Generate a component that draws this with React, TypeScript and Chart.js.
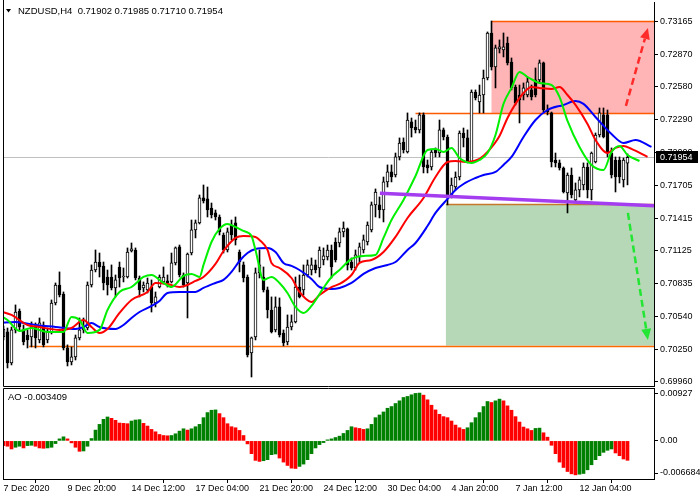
import React, { useEffect, useRef } from "react";
import { Chart, registerables } from "chart.js";

Chart.register(...registerables);

// ---------- data (NZDUSD H4) ----------
const OPEN = [
  0.70359, 0.70404, 0.70128, 0.70422, 0.7059, 0.70422, 0.70377, 0.70359, 0.70448, 0.70333,
  0.70466, 0.70333, 0.70404, 0.70661, 0.70821, 0.70741, 0.70262, 0.70137, 0.70182, 0.70351,
  0.70422, 0.70439, 0.70821, 0.70954, 0.71025, 0.7099, 0.70892, 0.70892, 0.70795, 0.70981,
  0.70892, 0.70892, 0.71123, 0.71132, 0.70883, 0.70795, 0.70777, 0.70803, 0.70661, 0.70803,
  0.70848, 0.70857, 0.70848, 0.71017, 0.71159, 0.7091, 0.70839, 0.71105, 0.7131, 0.71372,
  0.71594, 0.71585, 0.71505, 0.71461, 0.71425, 0.71265, 0.71132, 0.71354, 0.71372, 0.71114,
  0.70999, 0.70892, 0.70217, 0.70359, 0.70928, 0.70892, 0.70777, 0.70599, 0.70422, 0.70626,
  0.70395, 0.70316, 0.70448, 0.70493, 0.70803, 0.70777, 0.7091, 0.70954, 0.70999, 0.70972,
  0.71043, 0.7107, 0.71132, 0.71203, 0.71194, 0.71292, 0.71319, 0.71025, 0.70972, 0.7107,
  0.71132, 0.71203, 0.7131, 0.71532, 0.71532, 0.71487, 0.71736, 0.71825, 0.71798, 0.71958,
  0.72091, 0.72002, 0.72269, 0.72224, 0.72198, 0.72331, 0.71887, 0.71869, 0.7202, 0.71993,
  0.72198, 0.72135, 0.7162, 0.71691, 0.7178, 0.72171, 0.72127, 0.71913, 0.72535, 0.72446,
  0.72508, 0.72659, 0.73059, 0.72757, 0.72917, 0.72908, 0.7297, 0.72801, 0.72579, 0.72508,
  0.72508, 0.72508, 0.72553, 0.72642, 0.72642, 0.72793, 0.72375, 0.72349, 0.71931, 0.71905,
  0.7186, 0.71638, 0.71798, 0.71576, 0.71665, 0.71709, 0.71869, 0.71665, 0.71913, 0.72153,
  0.72331, 0.72331, 0.71993, 0.71931, 0.71931, 0.71754, 0.71902,
];
const HIGH = [
  0.70457, 0.70439, 0.70448, 0.70644, 0.70608, 0.70466, 0.70422, 0.70493, 0.70484, 0.70528,
  0.70493, 0.70439, 0.70688, 0.70839, 0.70937, 0.70759, 0.70289, 0.70271, 0.70377, 0.70528,
  0.70528, 0.70848, 0.70999, 0.71132, 0.71105, 0.71025, 0.70954, 0.70999, 0.7091, 0.71025,
  0.70972, 0.7115, 0.71194, 0.7115, 0.70901, 0.70848, 0.70883, 0.70866, 0.70759, 0.7091,
  0.70981, 0.7091, 0.71105, 0.71159, 0.71176, 0.70928, 0.71105, 0.71398, 0.71398, 0.7162,
  0.71709, 0.71691, 0.71549, 0.71487, 0.71443, 0.71283, 0.71327, 0.71398, 0.71425, 0.71132,
  0.71025, 0.7091, 0.70359, 0.70972, 0.71132, 0.70981, 0.70803, 0.70715, 0.70715, 0.70706,
  0.70422, 0.70555, 0.70555, 0.70892, 0.7091, 0.70999, 0.71043, 0.71061, 0.71043, 0.71159,
  0.7115, 0.71176, 0.71176, 0.71239, 0.71327, 0.71381, 0.71327, 0.71061, 0.71132, 0.71194,
  0.71265, 0.71381, 0.71558, 0.71674, 0.71603, 0.7178, 0.71887, 0.71887, 0.71993, 0.72127,
  0.72127, 0.72349, 0.72304, 0.72286, 0.72349, 0.72349, 0.71931, 0.7202, 0.72038, 0.72286,
  0.72215, 0.72153, 0.71771, 0.71825, 0.72189, 0.72215, 0.72198, 0.72553, 0.72553, 0.72597,
  0.7273, 0.73068, 0.73165, 0.72952, 0.72997, 0.73059, 0.73023, 0.72837, 0.72597, 0.72597,
  0.72615, 0.72668, 0.72597, 0.72748, 0.72819, 0.72801, 0.7242, 0.72357, 0.71993, 0.71931,
  0.71869, 0.71816, 0.7186, 0.71727, 0.7178, 0.71905, 0.71905, 0.72002, 0.72171, 0.72393,
  0.72393, 0.72375, 0.72038, 0.71958, 0.71958, 0.71949, 0.71985,
];
const LOW = [
  0.70333, 0.70084, 0.70111, 0.70395, 0.70422, 0.70289, 0.70262, 0.70271, 0.70262, 0.70307,
  0.70271, 0.70307, 0.70386, 0.70644, 0.70715, 0.70244, 0.70102, 0.70111, 0.70155, 0.70333,
  0.70395, 0.70422, 0.70803, 0.70937, 0.70892, 0.70777, 0.70732, 0.70777, 0.70715, 0.70803,
  0.70848, 0.70883, 0.71114, 0.70866, 0.70715, 0.70759, 0.7075, 0.70581, 0.70626, 0.70795,
  0.7083, 0.70803, 0.70839, 0.70999, 0.70892, 0.70803, 0.70528, 0.71088, 0.71239, 0.71363,
  0.71549, 0.71425, 0.71416, 0.71398, 0.71265, 0.71105, 0.71114, 0.71221, 0.71176, 0.70937,
  0.70848, 0.70182, 0.70004, 0.70333, 0.70883, 0.70759, 0.70528, 0.70395, 0.70404, 0.70359,
  0.7028, 0.70289, 0.70422, 0.70484, 0.70706, 0.70732, 0.70892, 0.7091, 0.70928, 0.70892,
  0.70999, 0.71043, 0.70883, 0.71025, 0.71159, 0.71248, 0.70954, 0.70954, 0.70954, 0.71025,
  0.71105, 0.71176, 0.71292, 0.71425, 0.71416, 0.71381, 0.71691, 0.71736, 0.7178, 0.71931,
  0.71993, 0.71993, 0.72135, 0.72171, 0.72171, 0.71816, 0.71816, 0.71842, 0.71958, 0.71958,
  0.72109, 0.71532, 0.71594, 0.71665, 0.71754, 0.72047, 0.71905, 0.71905, 0.72464, 0.72349,
  0.72349, 0.72642, 0.7273, 0.72571, 0.72881, 0.72846, 0.72775, 0.72553, 0.7242, 0.7226,
  0.72464, 0.72491, 0.72464, 0.72491, 0.72624, 0.72357, 0.72331, 0.71869, 0.71869, 0.71842,
  0.71638, 0.71461, 0.71594, 0.71558, 0.71603, 0.71665, 0.71594, 0.71576, 0.71905, 0.72135,
  0.72127, 0.71958, 0.71771, 0.71647, 0.71727, 0.71691, 0.7171,
];
const CLOSE = [
  0.7043, 0.70128, 0.70422, 0.70581, 0.70448, 0.70316, 0.70333, 0.70448, 0.70351, 0.70484,
  0.70289, 0.70404, 0.70661, 0.70821, 0.70732, 0.70262, 0.70137, 0.70182, 0.70351, 0.70422,
  0.70439, 0.70821, 0.70954, 0.71025, 0.70981, 0.70839, 0.70821, 0.70795, 0.70866, 0.70883,
  0.70901, 0.71114, 0.71141, 0.70883, 0.70777, 0.70821, 0.70839, 0.70661, 0.70715, 0.70892,
  0.70892, 0.70839, 0.71017, 0.7115, 0.7091, 0.70821, 0.71096, 0.7131, 0.71372, 0.71594,
  0.71567, 0.71487, 0.71443, 0.71425, 0.71292, 0.71132, 0.71292, 0.71265, 0.71221, 0.71025,
  0.70883, 0.702, 0.70351, 0.70928, 0.70999, 0.70777, 0.70599, 0.70404, 0.70626, 0.70377,
  0.70307, 0.70448, 0.70493, 0.70803, 0.70715, 0.7091, 0.70999, 0.70999, 0.70954, 0.71132,
  0.71079, 0.71132, 0.70981, 0.71043, 0.71292, 0.71327, 0.70999, 0.70972, 0.71088, 0.71159,
  0.71221, 0.71354, 0.71532, 0.71647, 0.71487, 0.71736, 0.71825, 0.7178, 0.71958, 0.72082,
  0.7202, 0.72286, 0.72215, 0.72198, 0.72331, 0.71869, 0.7186, 0.72002, 0.71993, 0.72198,
  0.72135, 0.7162, 0.71709, 0.7178, 0.72171, 0.72127, 0.71913, 0.72535, 0.72482, 0.72508,
  0.72659, 0.73059, 0.72757, 0.72926, 0.72935, 0.72935, 0.72793, 0.72571, 0.72437, 0.72464,
  0.72571, 0.72624, 0.72491, 0.72508, 0.72793, 0.72375, 0.72357, 0.71913, 0.71905, 0.7186,
  0.71647, 0.71798, 0.7162, 0.71665, 0.71754, 0.71869, 0.71665, 0.71993, 0.72153, 0.72349,
  0.72135, 0.71993, 0.71798, 0.7178, 0.7178, 0.71931, 0.71954,
];

// Awesome Oscillator values
const AO = [
  -0.00083, -0.00094, -0.00142, -0.00112, -0.00094, -0.00124, -0.00083, -0.00077, -0.00094, -0.00124,
  -0.0013, -0.00124, -0.00112, -0.00047, 0.00035, 0.00071, 0.00035, -0.00035, -0.00112, -0.00183,
  -0.00177, -0.00094, 0.00041, 0.00189, 0.00289, 0.00378, 0.00419, 0.00395, 0.0036, 0.00313,
  0.00307, 0.00301, 0.00348, 0.00366, 0.00372, 0.00307, 0.0026, 0.00201, 0.00159, 0.00112,
  0.00094, 0.00089, 0.00094, 0.00124, 0.00171, 0.00212, 0.00189, 0.00212, 0.00248, 0.00289,
  0.00407, 0.00496, 0.00537, 0.00543, 0.00478, 0.00407, 0.00301, 0.00248, 0.0023, 0.00183,
  0.00094, -0.00053, -0.00224, -0.00342, -0.0036, -0.00348, -0.0033, -0.00242, -0.0023, -0.00301,
  -0.00372, -0.00431, -0.00478, -0.00484, -0.00448, -0.00407, -0.0033, -0.00224, -0.00124, -0.00065,
  -0.0003, 0.00018, 0.00035, 0.00059, 0.00083, 0.0013, 0.00183, 0.00248, 0.0023, 0.00218,
  0.00201, 0.00212, 0.00289, 0.00407, 0.00454, 0.00507, 0.00572, 0.00602, 0.00655, 0.00702,
  0.00761, 0.00779, 0.00808, 0.00832, 0.00838, 0.00802, 0.0072, 0.00625, 0.00543, 0.00466,
  0.00425, 0.00407, 0.00348, 0.00277, 0.0023, 0.00201, 0.0023, 0.00319, 0.00407, 0.00496,
  0.00602, 0.0069, 0.00673, 0.00702, 0.00732, 0.00702, 0.00614, 0.00537, 0.00425, 0.0033,
  0.00242, 0.00212, 0.00183, 0.00218, 0.00224, 0.00142, 0.00065, -0.00077, -0.00224, -0.00372,
  -0.00466, -0.00537, -0.00578, -0.00596, -0.00584, -0.00572, -0.00507, -0.00419, -0.0033, -0.0026,
  -0.00201, -0.00165, -0.00142, -0.00212, -0.0026, -0.00318, -0.003409,
];

// Alligator lines (bar index, price)
const JAW_IDX = [-1, 3, 8, 13, 18, 20, 22, 24, 28, 30, 32, 34, 37, 39, 41, 44, 48, 50, 53, 55, 57, 59, 61, 63, 66, 68, 70, 72, 74, 77, 79, 82, 84, 87, 90, 93, 96, 98, 101, 103, 106, 108, 111, 113, 115, 118, 120, 123, 125, 127, 130, 133, 136, 140, 143, 145, 148, 152, 155, 158, 162];
const JAW_VAL = [0.70484, 0.70493, 0.70466, 0.70448, 0.7043, 0.70448, 0.70484, 0.70448, 0.7043, 0.70466, 0.70528, 0.70581, 0.70635, 0.70679, 0.7075, 0.70759, 0.70759, 0.70795, 0.70839, 0.70866, 0.70937, 0.71034, 0.71105, 0.71141, 0.7115, 0.71114, 0.71017, 0.7099, 0.70954, 0.70875, 0.70803, 0.70786, 0.70795, 0.70839, 0.70919, 0.70972, 0.70999, 0.71025, 0.71132, 0.71194, 0.71345, 0.71461, 0.71585, 0.71665, 0.71718, 0.71771, 0.71798, 0.71825, 0.71887, 0.71958, 0.72135, 0.72286, 0.72375, 0.7242, 0.72455, 0.72429, 0.72313, 0.72162, 0.72082, 0.72109, 0.72047];
const TEETH_IDX = [-1, 2, 6, 9, 14, 17, 20, 22, 24, 26, 29, 32, 36, 38, 41, 44, 46, 48, 50, 53, 55, 58, 60, 63, 64, 66, 67, 69, 72, 74, 77, 79, 82, 84, 87, 89, 92, 95, 98, 101, 105, 108, 111, 113, 116, 119, 121, 124, 126, 128, 130, 132, 134, 137, 139, 141, 143, 146, 148, 151, 153, 155, 157, 161];
const TEETH_VAL = [0.7059, 0.70555, 0.70466, 0.70448, 0.70422, 0.70439, 0.7051, 0.70448, 0.70395, 0.7043, 0.70573, 0.70688, 0.70759, 0.70839, 0.7083, 0.70803, 0.70821, 0.70857, 0.70892, 0.71008, 0.71123, 0.71239, 0.71256, 0.71248, 0.71221, 0.71132, 0.71017, 0.70972, 0.70883, 0.70759, 0.7067, 0.70732, 0.70803, 0.7083, 0.7091, 0.71017, 0.71043, 0.71114, 0.71248, 0.71416, 0.71594, 0.7178, 0.71913, 0.71922, 0.71913, 0.7194, 0.72002, 0.72144, 0.72304, 0.72429, 0.72526, 0.72579, 0.72571, 0.72562, 0.72579, 0.72508, 0.7242, 0.72251, 0.72109, 0.71993, 0.72038, 0.72056, 0.72029, 0.71958];
const LIPS_IDX = [-1, 1, 4, 7, 11, 15, 17, 19, 21, 24, 26, 29, 32, 35, 37, 40, 42, 45, 47, 49, 50, 52, 54, 56, 58, 60, 62, 63, 65, 67, 69, 71, 73, 75, 77, 80, 82, 84, 87, 90, 93, 95, 97, 100, 103, 106, 108, 110, 112, 114, 117, 119, 121, 123, 125, 127, 129, 131, 134, 137, 139, 141, 144, 147, 150, 152, 154, 156, 159];
const LIPS_VAL = [0.70555, 0.7051, 0.70413, 0.70439, 0.70404, 0.70404, 0.70537, 0.7051, 0.70395, 0.70422, 0.70599, 0.70759, 0.70803, 0.70892, 0.7091, 0.70839, 0.70803, 0.70901, 0.70919, 0.70892, 0.70999, 0.71203, 0.71319, 0.71363, 0.71336, 0.71301, 0.71256, 0.71132, 0.70866, 0.70892, 0.70839, 0.7075, 0.70626, 0.70573, 0.70635, 0.70795, 0.70892, 0.70954, 0.71052, 0.71079, 0.71088, 0.71239, 0.71398, 0.71576, 0.71789, 0.7202, 0.72029, 0.72002, 0.72038, 0.71949, 0.71905, 0.71931, 0.71993, 0.72153, 0.72429, 0.72571, 0.72713, 0.72668, 0.72615, 0.72597, 0.72491, 0.72278, 0.72047, 0.71887, 0.71842, 0.72002, 0.72056, 0.71976, 0.71922];

// axis ticks
const PRICE_TICKS = [0.73165, 0.7287, 0.7258, 0.7229, 0.72, 0.71705, 0.71415, 0.71125, 0.70835, 0.7054, 0.7025, 0.6996];
const TIME_TICK_INDEX = [0, 16, 32, 48, 64, 80, 96, 112, 128, 144];
const TIME_LABELS = ["7 Dec 2020", "9 Dec 20:00", "14 Dec 12:00", "17 Dec 04:00", "21 Dec 20:00", "24 Dec 12:00", "30 Dec 04:00", "4 Jan 20:00", "7 Jan 12:00", "12 Jan 04:00"];
const AO_SCALE_VALUES = [-0.006684, 0, 0.00927];
const AO_SCALE_LABELS = ["-0.006684", "0.00", "0.00927"];

// annotations (bar index / price)
const SYMBOL_TITLE = "NZDUSD,H4  0.71902 0.71985 0.71710 0.71954";
const AO_TITLE = "AO -0.003409";
const CURRENT_PRICE = 0.71954;
const UPPER_BOX = { from: 122, top: 0.73165, bottom: 0.72346 };
const RESIST_LEVEL = { from: 103, price: 0.72346 };
const LOWER_BOX = { from: 110.6, top: 0.71538, bottom: 0.70282 };
const TARGET_DOWN = { from: 6.4, price: 0.70282 };
const TREND_LINE = [{ x: 94.1, y: 0.71636 }, { x: 162.625, y: 0.71525 }];
const ARROW_UP = [{ x: 155.6, y: 0.72411 }, { x: 161.1, y: 0.73103 }];
const ARROW_DOWN = [{ x: 156.1, y: 0.71461 }, { x: 161.1, y: 0.70333 }];

// ---------- layout constants ----------
const X_MIN = -0.125;
const X_MAX = 162.625;
const PRICE_MIN = 0.69924;
const PRICE_MAX = 0.73334;
const AO_MIN = -0.006684;
const AO_MAX = 0.00927;
const AO_PANEL_H = 91;
const FONT = '"Liberation Sans", Arial, "DejaVu Sans", sans-serif';

const pairs = (idx: number[], val: number[]) => idx.map((x, k) => ({ x, y: val[k] }));

function hline(ctx: CanvasRenderingContext2D, x1: number, x2: number, y: number, color: string, w: number) {
  ctx.save();
  ctx.strokeStyle = color;
  ctx.lineWidth = w;
  ctx.beginPath();
  const yy = Math.round(y) + 0.5;
  ctx.moveTo(x1, yy);
  ctx.lineTo(x2, yy);
  ctx.stroke();
  ctx.restore();
}

function arrow(ctx: CanvasRenderingContext2D, x1: number, y1: number, x2: number, y2: number, color: string) {
  const ang = Math.atan2(y2 - y1, x2 - x1);
  const head = 11;
  const half = 5;
  const bx = x2 - head * Math.cos(ang);
  const by = y2 - head * Math.sin(ang);
  ctx.save();
  ctx.strokeStyle = color;
  ctx.lineWidth = 2.5;
  ctx.setLineDash([7, 4]);
  ctx.beginPath();
  ctx.moveTo(x1, y1);
  ctx.lineTo(bx, by);
  ctx.stroke();
  ctx.setLineDash([]);
  ctx.fillStyle = color;
  ctx.beginPath();
  ctx.moveTo(x2, y2);
  ctx.lineTo(bx + half * Math.sin(ang), by - half * Math.cos(ang));
  ctx.lineTo(bx - half * Math.sin(ang), by + half * Math.cos(ang));
  ctx.closePath();
  ctx.fill();
  ctx.restore();
}

const noPad = (s: any) => {
  s.paddingTop = 0;
  s.paddingBottom = 0;
  s.paddingLeft = 0;
  s.paddingRight = 0;
};

const mainDecor = {
  id: "mainDecor",
  beforeDatasetsDraw(chart: any) {
    const { ctx, chartArea: a } = chart;
    const x = chart.scales.x;
    const y = chart.scales.y;
    ctx.save();
    ctx.beginPath();
    ctx.rect(a.left, a.top, a.right - a.left, a.bottom - a.top);
    ctx.clip();
    const ux = x.getPixelForValue(UPPER_BOX.from);
    const ut = y.getPixelForValue(UPPER_BOX.top);
    const ub = y.getPixelForValue(UPPER_BOX.bottom);
    ctx.fillStyle = "#ffb5b5";
    ctx.fillRect(ux, ut, a.right - ux, ub - ut);
    const lx = x.getPixelForValue(LOWER_BOX.from);
    const lt = y.getPixelForValue(LOWER_BOX.top);
    const lb = y.getPixelForValue(LOWER_BOX.bottom);
    ctx.fillStyle = "#b7d8b7";
    ctx.fillRect(lx, lt, a.right - lx, lb - lt);
    hline(ctx, a.left, a.right, y.getPixelForValue(CURRENT_PRICE), "#c0c0c0", 1);
    hline(ctx, ux, a.right, ut, "#ff5a00", 1.5);
    hline(ctx, x.getPixelForValue(RESIST_LEVEL.from), a.right, y.getPixelForValue(RESIST_LEVEL.price), "#ff5a00", 1.5);
    hline(ctx, lx, a.right, lt, "#c8782a", 1.5);
    hline(ctx, x.getPixelForValue(TARGET_DOWN.from), a.right, y.getPixelForValue(TARGET_DOWN.price), "#ff6a00", 1.5);
    ctx.restore();
  },
  afterDatasetsDraw(chart: any) {
    const { ctx, chartArea: a } = chart;
    const x = chart.scales.x;
    const y = chart.scales.y;
    ctx.save();
    ctx.beginPath();
    ctx.rect(a.left, a.top, a.right - a.left + 1, a.bottom - a.top);
    ctx.clip();
    ctx.strokeStyle = "#a43cf0";
    ctx.lineWidth = 3.5;
    ctx.beginPath();
    ctx.moveTo(x.getPixelForValue(TREND_LINE[0].x), y.getPixelForValue(TREND_LINE[0].y));
    ctx.lineTo(x.getPixelForValue(TREND_LINE[1].x), y.getPixelForValue(TREND_LINE[1].y));
    ctx.stroke();
    arrow(ctx, x.getPixelForValue(ARROW_UP[0].x), y.getPixelForValue(ARROW_UP[0].y), x.getPixelForValue(ARROW_UP[1].x), y.getPixelForValue(ARROW_UP[1].y), "#ff2a2a");
    arrow(ctx, x.getPixelForValue(ARROW_DOWN[0].x), y.getPixelForValue(ARROW_DOWN[0].y), x.getPixelForValue(ARROW_DOWN[1].x), y.getPixelForValue(ARROW_DOWN[1].y), "#22e633");
    ctx.restore();
  },
  afterDraw(chart: any) {
    const { ctx, chartArea: a } = chart;
    const y = chart.scales.y;
    ctx.save();
    ctx.strokeStyle = "#000";
    ctx.lineWidth = 1;
    ctx.beginPath();
    ctx.moveTo(a.left + 0.5, 0);
    ctx.lineTo(a.left + 0.5, a.bottom + 0.5);
    ctx.lineTo(a.right, a.bottom + 0.5);
    ctx.stroke();
    ctx.fillStyle = "#000";
    ctx.beginPath();
    ctx.moveTo(6, 9);
    ctx.lineTo(11, 9);
    ctx.lineTo(8.5, 12.5);
    ctx.closePath();
    ctx.fill();
    ctx.font = `9.5px ${FONT}`;
    ctx.textBaseline = "middle";
    ctx.textAlign = "left";
    ctx.fillText(SYMBOL_TITLE, 18, 11);
    const py = Math.round(y.getPixelForValue(CURRENT_PRICE));
    ctx.fillStyle = "#000";
    ctx.fillRect(a.right + 2, py - 6, 700 - a.right - 4, 12);
    ctx.fillStyle = "#fff";
    ctx.font = `9px ${FONT}`;
    ctx.fillText(CURRENT_PRICE.toFixed(5), a.right + 6, py + 0.5);
    ctx.restore();
  },
};

const aoDecor = {
  id: "aoDecor",
  afterDraw(chart: any) {
    const { ctx, chartArea: a } = chart;
    ctx.save();
    ctx.strokeStyle = "#000";
    ctx.lineWidth = 1;
    ctx.beginPath();
    ctx.moveTo(a.left + 0.5, a.bottom);
    ctx.lineTo(a.left + 0.5, a.top + 0.5);
    ctx.lineTo(a.right, a.top + 0.5);
    ctx.stroke();
    ctx.fillStyle = "#000";
    ctx.font = `9.5px ${FONT}`;
    ctx.textBaseline = "middle";
    ctx.textAlign = "left";
    ctx.fillText(AO_TITLE, 8, 10);
    ctx.restore();
  },
};

export default function App() {
  const mainRef = useRef<HTMLCanvasElement>(null);
  const aoRef = useRef<HTMLCanvasElement>(null);

  useEffect(() => {
    const tickFont = { size: 9, family: FONT };
    const main = new Chart(mainRef.current as HTMLCanvasElement, {
      type: "bar",
      data: {
        datasets: [
          {
            type: "line",
            label: "Lips",
            data: pairs(LIPS_IDX, LIPS_VAL),
            borderColor: "#00f000",
            borderWidth: 2,
            pointRadius: 0,
            cubicInterpolationMode: "monotone",
            order: 1,
          } as any,
          {
            type: "line",
            label: "Teeth",
            data: pairs(TEETH_IDX, TEETH_VAL),
            borderColor: "#ff0000",
            borderWidth: 2,
            pointRadius: 0,
            cubicInterpolationMode: "monotone",
            order: 2,
          } as any,
          {
            type: "line",
            label: "Jaw",
            data: pairs(JAW_IDX, JAW_VAL),
            borderColor: "#0000ff",
            borderWidth: 2,
            pointRadius: 0,
            cubicInterpolationMode: "monotone",
            order: 3,
          } as any,
          {
            type: "bar",
            label: "Body",
            data: OPEN.map((o, i) => ({ x: i, y: [o, CLOSE[i]] })),
            backgroundColor: OPEN.map((o, i) => (CLOSE[i] >= o ? "#ffffff" : "#000000")),
            borderColor: "#000000",
            borderWidth: 1,
            borderSkipped: false,
            barThickness: 3,
            minBarLength: 1,
            grouped: false,
            order: 4,
          } as any,
          {
            type: "bar",
            label: "Wick",
            data: LOW.map((l, i) => ({ x: i, y: [l, HIGH[i]] })),
            backgroundColor: "#000000",
            borderWidth: 0,
            barThickness: 1,
            grouped: false,
            order: 5,
          } as any,
        ],
      },
      options: {
        responsive: false,
        animation: false,
        events: [],
        layout: { padding: { left: 3, top: 2, right: 0, bottom: 2 } },
        plugins: { legend: { display: false }, tooltip: { enabled: false } },
        scales: {
          x: { type: "linear", min: X_MIN, max: X_MAX, display: false, offset: false },
          y: {
            type: "linear",
            position: "right",
            min: PRICE_MIN,
            max: PRICE_MAX,
            afterFit: (s: any) => {
              s.width = 46;
              noPad(s);
            },
            afterBuildTicks: (s: any) => {
              s.ticks = PRICE_TICKS.map((v) => ({ value: v }));
            },
            ticks: {
              callback: (v: any) => Number(v).toFixed(5),
              font: tickFont,
              color: "#000",
              padding: 2,
              autoSkip: false,
            },
            grid: { drawOnChartArea: false, drawTicks: true, tickLength: 4, color: "#000" },
            border: { display: true, color: "#000" },
          },
        },
      } as any,
      plugins: [mainDecor],
    });

    const edge = ((AO_MAX - AO_MIN) * 6) / AO_PANEL_H;
    const ao = new Chart(aoRef.current as HTMLCanvasElement, {
      type: "bar",
      data: {
        datasets: [
          {
            label: "AO",
            data: AO.map((v, i) => ({ x: i, y: v })),
            backgroundColor: AO.map((v, i) => (i > 0 && v > AO[i - 1] ? "#008000" : "#ff0000")),
            borderWidth: 0,
            barThickness: 3,
            grouped: false,
          } as any,
        ],
      },
      options: {
        responsive: false,
        animation: false,
        events: [],
        layout: { padding: { left: 3, top: 1, right: 0, bottom: 0 } },
        plugins: { legend: { display: false }, tooltip: { enabled: false } },
        scales: {
          x: {
            type: "linear",
            min: X_MIN,
            max: X_MAX,
            offset: false,
            position: "bottom",
            afterFit: (s: any) => {
              s.height = 21;
              noPad(s);
            },
            afterBuildTicks: (s: any) => {
              s.ticks = TIME_TICK_INDEX.map((v) => ({ value: v }));
            },
            ticks: {
              callback: (_v: any, i: number) => TIME_LABELS[i],
              align: "start",
              padding: 0,
              font: tickFont,
              color: "#000",
              maxRotation: 0,
              minRotation: 0,
              autoSkip: false,
            },
            grid: { drawOnChartArea: false, drawTicks: true, tickLength: 4, color: "#000" },
            border: { display: true, color: "#000" },
          },
          y: {
            type: "linear",
            position: "right",
            min: AO_MIN,
            max: AO_MAX,
            afterFit: (s: any) => {
              s.width = 46;
              noPad(s);
            },
            afterBuildTicks: (s: any) => {
              s.ticks = AO_SCALE_VALUES.map((v) => ({
                value: v <= AO_MIN ? v + edge : v >= AO_MAX ? v - edge : v,
              }));
            },
            ticks: {
              callback: (_v: any, i: number) => AO_SCALE_LABELS[i],
              font: tickFont,
              color: "#000",
              padding: 2,
              autoSkip: false,
            },
            grid: { drawOnChartArea: false, drawTicks: true, tickLength: 4, color: "#000" },
            border: { display: true, color: "#000" },
          },
        },
      } as any,
      plugins: [aoDecor],
    });

    return () => {
      main.destroy();
      ao.destroy();
    };
  }, []);

  return (
    <div
      style={{
        position: "absolute",
        left: 0,
        top: 0,
        width: 700,
        height: 500,
        background: "#fff",
        overflow: "hidden",
      }}
    >
      <canvas
        ref={mainRef}
        width={700}
        height={388}
        style={{ position: "absolute", left: 0, top: 0, width: 700, height: 388 }}
      />
      <canvas
        ref={aoRef}
        width={700}
        height={113}
        style={{ position: "absolute", left: 0, top: 387, width: 700, height: 113 }}
      />
    </div>
  );
}
